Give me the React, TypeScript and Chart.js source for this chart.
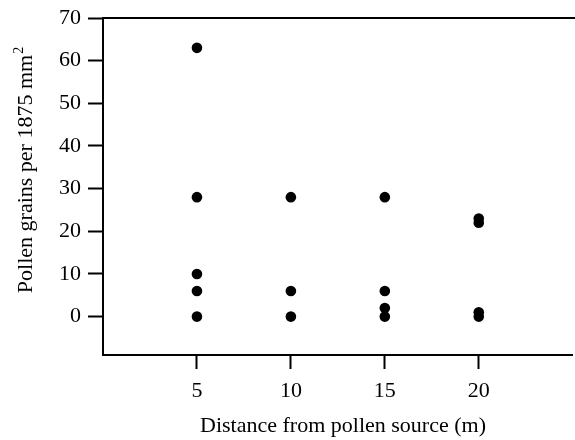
import React, { useEffect, useRef } from "react";
import { Chart, registerables } from "chart.js";

Chart.register(...registerables);

const distances = [5, 10, 15, 20];
const pollenAt5 = [63, 28, 10, 6, 0];
const pollenAt10 = [28, 6, 0];
const pollenAt15 = [28, 6, 2, 0];
const pollenAt20 = [23, 22, 1, 0];
const xTickValues = [5, 10, 15, 20];
const yTickValues = [0, 10, 20, 30, 40, 50, 60, 70];
const xTitle = "Distance from pollen source (m)";
const yTitleMain = "Pollen grains per 1875 mm";
const yTitleSup = "2";

const FONT = "'Liberation Serif', 'Times New Roman', serif";

export default function App() {
  const ref = useRef<HTMLCanvasElement | null>(null);

  useEffect(() => {
    const canvas = ref.current;
    if (!canvas) return;
    const groups = [pollenAt5, pollenAt10, pollenAt15, pollenAt20];
    const points: { x: number; y: number }[] = [];
    groups.forEach((g, i) => g.forEach((v) => points.push({ x: distances[i], y: v })));

    const framePlugin = {
      id: "frame",
      afterDraw(chart: any) {
        const { ctx, chartArea } = chart;
        ctx.save();
        ctx.strokeStyle = "#000";
        ctx.lineWidth = 2;
        ctx.beginPath();
        ctx.moveTo(chartArea.left - 1, chartArea.top);
        ctx.lineTo(chartArea.right + 5, chartArea.top);
        ctx.stroke();

        ctx.fillStyle = "#000";
        ctx.font = `22px ${FONT}`;
        ctx.textAlign = "center";
        ctx.textBaseline = "alphabetic";
        ctx.fillText(xTitle, 343, 432);

        ctx.translate(32, 170);
        ctx.rotate(-Math.PI / 2);
        const mainW = ctx.measureText(yTitleMain).width;
        ctx.font = `14px ${FONT}`;
        const supW = ctx.measureText(yTitleSup).width;
        const total = mainW + supW + 1;
        ctx.textAlign = "left";
        ctx.font = `22px ${FONT}`;
        ctx.fillText(yTitleMain, -total / 2, 0);
        ctx.font = `14px ${FONT}`;
        ctx.fillText(yTitleSup, -total / 2 + mainW + 1, -9);
        ctx.restore();
      },
    };

    const tickFont = { family: FONT, size: 22, lineHeight: 1 };

    const chart = new Chart(canvas, {
      type: "scatter",
      data: {
        datasets: [
          {
            data: points,
            pointRadius: 5.3,
            pointHoverRadius: 5.3,
            backgroundColor: "#000",
            borderWidth: 0,
          },
        ],
      },
      options: {
        animation: false,
        responsive: false,
        devicePixelRatio: 1,
        layout: { padding: { top: 17, right: 0, left: 0, bottom: 0 } },
        plugins: { legend: { display: false }, tooltip: { enabled: false } },
        scales: {
          x: {
            type: "linear",
            position: "bottom",
            min: 0,
            max: 25,
            afterBuildTicks: (s: any) => {
              s.ticks = xTickValues.map((v) => ({ value: v }));
            },
            afterFit: (s: any) => {
              s.height = 85;
            },
            grid: {
              drawOnChartArea: false,
              drawTicks: true,
              tickLength: 14,
              tickWidth: 2,
              tickColor: "#000",
            },
            border: { display: true, color: "#000", width: 2 },
            ticks: { color: "#000", font: tickFont, padding: 11, maxRotation: 0 },
          },
          y: {
            type: "linear",
            min: -9,
            max: 70,
            afterBuildTicks: (s: any) => {
              s.ticks = yTickValues.map((v) => ({ value: v }));
            },
            afterFit: (s: any) => {
              s.width = 103;
            },
            grid: {
              drawOnChartArea: false,
              drawTicks: true,
              tickLength: 15,
              tickWidth: 2,
              tickColor: "#000",
            },
            border: { display: true, color: "#000", width: 2 },
            ticks: { color: "#000", font: tickFont, padding: 7 },
          },
        },
      },
      plugins: [framePlugin],
    });
    return () => chart.destroy();
  }, []);

  return (
    <div
      style={{
        position: "absolute",
        left: 0,
        top: 0,
        width: 575,
        height: 440,
        overflow: "hidden",
        background: "#fff",
      }}
    >
      <canvas ref={ref} width={578} height={440} style={{ display: "block" }} />
    </div>
  );
}
